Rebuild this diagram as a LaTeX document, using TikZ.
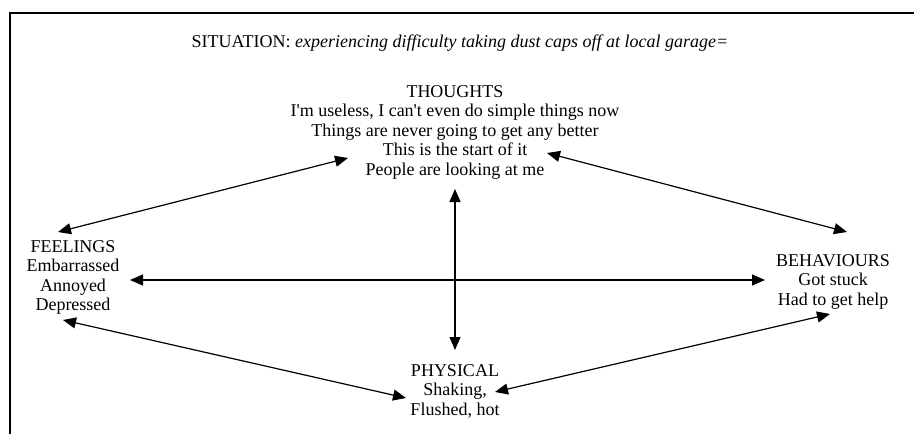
\documentclass[tikz,border=0pt]{standalone}
\usepackage{fontspec}
\setmainfont{Liberation Serif}
\usepackage{tikz}
\usetikzlibrary{arrows.meta, positioning, calc}

\begin{document}
\begin{tikzpicture}[
    x=1pt, y=-1pt,
    areatext/.style={inner sep=0pt, anchor=north, align=center, font=\fontsize{18}{19.5}\selectfont},
    link/.style={{Triangle[length=13pt,width=11pt]}-{Triangle[length=13pt,width=11pt]}, line width=1.2pt},
]
\useasboundingbox (0,0) rectangle (914,434);

% Frame
\draw[line width=2.5pt] (914,13) -- (10,13) -- (10,434);

% Situation
\node[areatext, anchor=center] (situation) at (460,43) {SITUATION: \textit{experiencing difficulty taking dust caps off at local garage=}};

% Four areas
\node[areatext] (thoughts) at (455,85) {THOUGHTS\\I\textquotesingle m useless, I can\textquotesingle t even do simple things now\\Things are never going to get any better\\This is the start of it\\People are looking at me};
\node[areatext] (feelings) at (73,240) {FEELINGS\\Embarrassed\\Annoyed\\Depressed};
\node[areatext] (behaviours) at (833,254) {BEHAVIOURS\\Got stuck\\Had to get help};
\node[areatext] (physical) at (455,364) {PHYSICAL\\Shaking,\\Flushed, hot};

% Links
\draw[link] ($(feelings.north)+(-15,-8)$) -- ($(thoughts.north)+(-107,73)$);
\draw[link] ($(thoughts.north)+(92,68)$) -- ($(behaviours.north)+(14,-22)$);
\draw[link] ($(feelings.north)+(-10,80)$) -- ($(physical.north)+(-49,34)$);
\draw[link] ($(physical.north)+(40,28)$) -- ($(behaviours.north)+(-3,60)$);
\draw[link] ($(feelings.north)+(57,40)$) -- ($(behaviours.north)+(-68,26)$);
\draw[link] ($(thoughts.north)+(0,104)$) -- ($(physical.north)+(0,-14)$);

\end{tikzpicture}
\end{document}
